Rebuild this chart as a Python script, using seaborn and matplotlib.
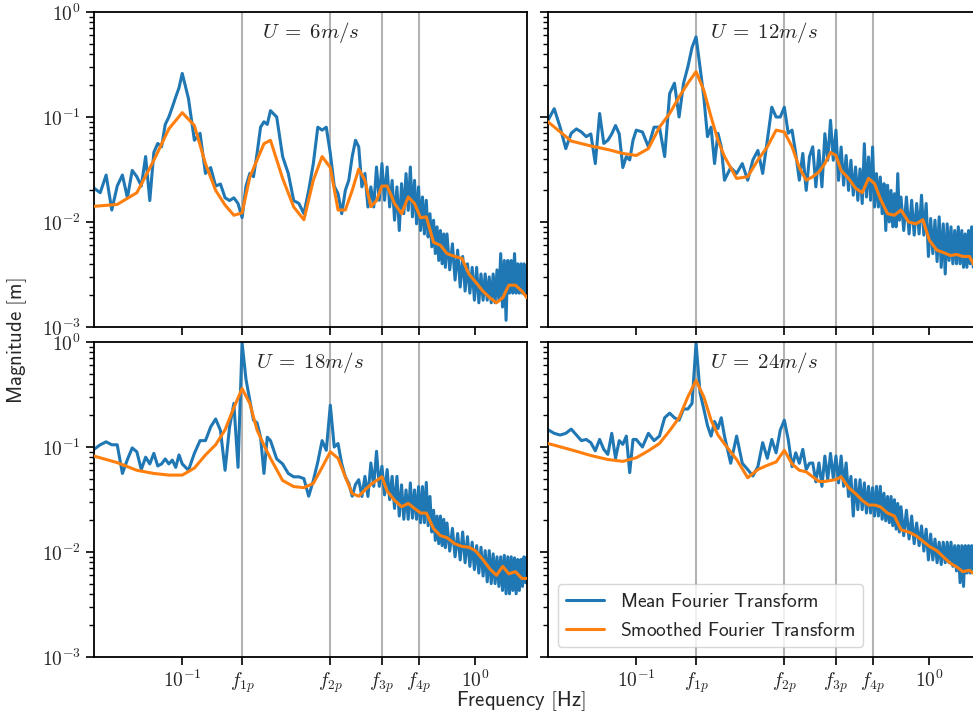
import matplotlib
matplotlib.use("Agg")
import matplotlib.pyplot as plt
import matplotlib.ticker as mticker
import seaborn as sns

# ---------------- data ----------------
freq_mean = [0.0500, 0.0525, 0.0550, 0.0575, 0.0600, 0.0625, 0.0650, 0.0675, 0.0700, 0.0725,
             0.0750, 0.0775, 0.0800, 0.0825, 0.0850, 0.0875, 0.0900, 0.0925, 0.0950, 0.0975,
             0.100, 0.105, 0.110, 0.115, 0.120, 0.125, 0.130, 0.135, 0.140, 0.145,
             0.150, 0.155, 0.160, 0.165, 0.170, 0.175, 0.180, 0.185, 0.190, 0.195,
             0.20, 0.21, 0.22, 0.23, 0.24, 0.25, 0.26, 0.27, 0.28, 0.29,
             0.30, 0.31, 0.32, 0.33, 0.34, 0.35, 0.36, 0.37, 0.38, 0.39,
             0.40, 0.41, 0.42, 0.43, 0.44, 0.45, 0.46, 0.47, 0.48, 0.49,
             0.50, 0.51, 0.52, 0.53, 0.54, 0.55, 0.56, 0.57, 0.58, 0.59,
             0.60, 0.61, 0.62, 0.63, 0.64, 0.65, 0.66, 0.67, 0.68, 0.69,
             0.70, 0.71, 0.72, 0.73, 0.74, 0.75, 0.76, 0.77, 0.78, 0.79,
             0.8000, 0.8175, 0.8350, 0.8525, 0.8700, 0.8875, 0.9050, 0.9225, 0.9400, 0.9575,
             0.9750, 0.9925, 1.0100, 1.0275, 1.0450, 1.0625, 1.0800, 1.0975, 1.1150, 1.1325,
             1.1500, 1.1675, 1.1850, 1.2025, 1.2200, 1.2375, 1.2550, 1.2725, 1.2900, 1.3075,
             1.3250, 1.3425, 1.3600, 1.3775, 1.3950, 1.4125, 1.4300, 1.4475, 1.4650, 1.4825, 1.5000]

mean_6 = [0.021, 0.019, 0.028, 0.013, 0.022, 0.028, 0.017, 0.031, 0.027, 0.022,
          0.042, 0.016, 0.046, 0.056, 0.052, 0.085, 0.10, 0.124, 0.155, 0.19,
          0.26, 0.15, 0.06, 0.07, 0.029, 0.033, 0.022, 0.023, 0.017, 0.016,
          0.017, 0.015, 0.011, 0.022, 0.029, 0.027, 0.045, 0.08, 0.09, 0.085,
          0.115, 0.10, 0.042, 0.029, 0.016, 0.015, 0.012, 0.02, 0.036, 0.08,
          0.075, 0.08, 0.045, 0.022, 0.0186, 0.012, 0.02, 0.025, 0.042, 0.06,
          0.052, 0.0216, 0.029, 0.0139, 0.0216, 0.0139, 0.0334, 0.0161, 0.036, 0.0161,
          0.0334, 0.0139, 0.0249, 0.0104, 0.0216, 0.0083, 0.0232, 0.012, 0.0289, 0.0129,
          0.0334, 0.0112, 0.0249, 0.0096, 0.0216, 0.0083, 0.0173, 0.0077, 0.0161, 0.0072,
          0.012, 0.0058, 0.0104, 0.005, 0.009, 0.0043, 0.0083, 0.004, 0.0077, 0.0037,
          0.0077, 0.0035, 0.0062, 0.0028, 0.0054, 0.0024, 0.0047, 0.0022, 0.004, 0.0021,
          0.0037, 0.0018, 0.0037, 0.0017, 0.0032, 0.0018, 0.0032, 0.0018, 0.003, 0.0017,
          0.0032, 0.0017, 0.0035, 0.0018, 0.005, 0.00155, 0.0043, 0.00116, 0.0043, 0.0021,
          0.0043, 0.0021, 0.005, 0.0021, 0.004, 0.0021, 0.004, 0.0021, 0.004, 0.0021, 0.0035]

mean_12 = [0.093, 0.12, 0.08, 0.05, 0.07, 0.077, 0.072, 0.065, 0.069, 0.036,
           0.108, 0.056, 0.06, 0.069, 0.083, 0.069, 0.033, 0.042, 0.039, 0.06,
           0.075, 0.072, 0.052, 0.08, 0.08, 0.042, 0.167, 0.21, 0.10, 0.21,
           0.30, 0.46, 0.58, 0.30, 0.155, 0.065, 0.08, 0.036, 0.07, 0.052,
           0.025, 0.033, 0.029, 0.036, 0.025, 0.039, 0.048, 0.029, 0.06, 0.124,
           0.10, 0.10, 0.124, 0.07, 0.075, 0.045, 0.025, 0.045, 0.02, 0.042,
           0.052, 0.0216, 0.048, 0.0216, 0.0694, 0.0387, 0.093, 0.0387, 0.075, 0.0249,
           0.0518, 0.0224, 0.043, 0.020, 0.0387, 0.018, 0.0334, 0.0161, 0.032, 0.015,
           0.0557, 0.0173, 0.0416, 0.0161, 0.0518, 0.0139, 0.0289, 0.0139, 0.0268, 0.012,
           0.0232, 0.0083, 0.0224, 0.010, 0.020, 0.009, 0.0186, 0.009, 0.0289, 0.0104,
           0.0173, 0.0083, 0.0173, 0.0077, 0.0161, 0.0075, 0.015, 0.0077, 0.018, 0.0075,
           0.015, 0.0047, 0.0108, 0.005, 0.0104, 0.0042, 0.0112, 0.0037, 0.0096, 0.0032,
           0.0096, 0.0043, 0.009, 0.004, 0.0083, 0.004, 0.009, 0.004, 0.0083, 0.0037,
           0.0077, 0.0037, 0.0083, 0.004, 0.009, 0.0037, 0.0077, 0.0037, 0.0077, 0.0037, 0.0077]

mean_18 = [0.095, 0.105, 0.112, 0.105, 0.105, 0.056, 0.076, 0.098, 0.09, 0.061,
           0.08, 0.069, 0.087, 0.066, 0.069, 0.077, 0.069, 0.075, 0.064, 0.084,
           0.069, 0.06, 0.087, 0.115, 0.115, 0.155, 0.185, 0.144, 0.06, 0.155,
           0.26, 0.064, 0.98, 0.44, 0.28, 0.18, 0.17, 0.124, 0.056, 0.124,
           0.115, 0.077, 0.069, 0.056, 0.052, 0.052, 0.05, 0.034, 0.048, 0.072,
           0.115, 0.093, 0.25, 0.1, 0.108, 0.069, 0.052, 0.045, 0.034, 0.044,
           0.0488, 0.0338, 0.0525, 0.0338, 0.0705, 0.0422, 0.091, 0.0422, 0.0655, 0.035,
           0.061, 0.0315, 0.0525, 0.026, 0.0525, 0.022, 0.0436, 0.0205, 0.039, 0.0205,
           0.0455, 0.021, 0.039, 0.0205, 0.042, 0.019, 0.042, 0.019, 0.046, 0.0178,
           0.0338, 0.0155, 0.025, 0.0129, 0.022, 0.012, 0.022, 0.0115, 0.0205, 0.011,
           0.0189, 0.0102, 0.0168, 0.009, 0.015, 0.0084, 0.0155, 0.0079, 0.014, 0.0073,
           0.0124, 0.0068, 0.0115, 0.0063, 0.0111, 0.0059, 0.0103, 0.0052, 0.0103, 0.005,
           0.0096, 0.005, 0.009, 0.0047, 0.009, 0.0043, 0.0093, 0.004, 0.009, 0.004,
           0.009, 0.0043, 0.0088, 0.004, 0.0085, 0.0043, 0.0085, 0.0047, 0.009, 0.0051, 0.009]

mean_24 = [0.146, 0.135, 0.13, 0.135, 0.148, 0.13, 0.115, 0.118, 0.11, 0.092,
           0.118, 0.095, 0.085, 0.135, 0.078, 0.115, 0.106, 0.127, 0.057, 0.118,
           0.118, 0.1, 0.135, 0.115, 0.127, 0.19, 0.21, 0.19, 0.18, 0.23,
           0.23, 0.26, 0.98, 0.33, 0.23, 0.16, 0.127, 0.175, 0.15, 0.19,
           0.127, 0.07, 0.127, 0.07, 0.061, 0.053, 0.065, 0.11, 0.078, 0.118,
           0.088, 0.145, 0.18, 0.118, 0.065, 0.088, 0.07, 0.095, 0.061, 0.07,
           0.0705, 0.0466, 0.0705, 0.0422, 0.082, 0.0488, 0.087, 0.0505, 0.082, 0.0455,
           0.082, 0.0422, 0.0705, 0.0338, 0.0525, 0.022, 0.0488, 0.0253, 0.0488, 0.0253,
           0.0455, 0.0235, 0.0422, 0.0235, 0.041, 0.022, 0.0422, 0.022, 0.0422, 0.0205,
           0.0363, 0.0198, 0.0338, 0.019, 0.0338, 0.0178, 0.0315, 0.0165, 0.029, 0.0155,
           0.027, 0.0143, 0.025, 0.0133, 0.022, 0.012, 0.0189, 0.0115, 0.0177, 0.0102,
           0.0165, 0.0084, 0.0148, 0.0084, 0.0133, 0.0079, 0.0124, 0.0076, 0.0124, 0.0079,
           0.0124, 0.0079, 0.0124, 0.0073, 0.0115, 0.0066, 0.0115, 0.0051, 0.0115, 0.0047,
           0.0115, 0.0063, 0.0115, 0.0063, 0.0115, 0.0068, 0.0124, 0.0068, 0.0115, 0.0068, 0.0115]

freq_smooth = [0.05, 0.06, 0.07, 0.08, 0.09, 0.10, 0.11, 0.12, 0.13, 0.14, 0.15, 0.16, 0.17, 0.18, 0.19, 0.20,
               0.22, 0.24, 0.26, 0.28, 0.30, 0.32, 0.34, 0.36, 0.38, 0.40, 0.42, 0.44, 0.46, 0.48, 0.50,
               0.53, 0.56, 0.59, 0.62, 0.65, 0.68, 0.72, 0.76, 0.80, 0.85, 0.90, 0.95, 1.00,
               1.06, 1.12, 1.18, 1.24, 1.30, 1.37, 1.44, 1.50]

smooth_6 = [0.0141, 0.0147, 0.019, 0.0387, 0.077, 0.11, 0.083, 0.036, 0.02, 0.0145, 0.0116, 0.0122, 0.0268, 0.039, 0.0557, 0.06,
            0.026, 0.0139, 0.0105, 0.025, 0.042, 0.033, 0.013, 0.013, 0.02, 0.032, 0.025, 0.014, 0.016, 0.022, 0.022,
            0.015, 0.012, 0.0173, 0.015, 0.011, 0.0112, 0.0064, 0.006, 0.005, 0.0047, 0.0045, 0.0032, 0.0027,
            0.0022, 0.0019, 0.0017, 0.0019, 0.0025, 0.0025, 0.0022, 0.0019]

smooth_12 = [0.090, 0.059, 0.053, 0.049, 0.045, 0.043, 0.05, 0.08, 0.108, 0.155, 0.21, 0.27, 0.18, 0.1, 0.06, 0.042,
             0.026, 0.027, 0.039, 0.052, 0.075, 0.072, 0.052, 0.033, 0.025, 0.027, 0.03, 0.036, 0.046, 0.043, 0.031,
             0.026, 0.021, 0.019, 0.026, 0.0232, 0.0167, 0.012, 0.0116, 0.013, 0.01, 0.0096, 0.0105, 0.0067,
             0.0054, 0.0051, 0.0048, 0.0049, 0.0047, 0.0047, 0.0036, 0.0035]

smooth_18 = [0.082, 0.071, 0.06, 0.056, 0.054, 0.054, 0.063, 0.084, 0.105, 0.146, 0.237, 0.36, 0.26, 0.145, 0.104, 0.078,
             0.048, 0.042, 0.041, 0.045, 0.064, 0.09, 0.078, 0.052, 0.036, 0.034, 0.039, 0.044, 0.048, 0.052, 0.038,
             0.031, 0.027, 0.029, 0.026, 0.0235, 0.0235, 0.0167, 0.0143, 0.0137, 0.012, 0.0113, 0.0111, 0.0103,
             0.0085, 0.0069, 0.006, 0.0073, 0.0062, 0.0065, 0.0056, 0.0056]

smooth_24 = [0.108, 0.094, 0.083, 0.076, 0.073, 0.079, 0.092, 0.108, 0.143, 0.19, 0.30, 0.43, 0.3, 0.18, 0.13, 0.107,
             0.076, 0.051, 0.061, 0.067, 0.072, 0.093, 0.069, 0.06, 0.058, 0.052, 0.047, 0.047, 0.048, 0.049, 0.052,
             0.041, 0.036, 0.031, 0.028, 0.028, 0.027, 0.0235, 0.022, 0.0163, 0.0155, 0.0143, 0.0127, 0.0113,
             0.0103, 0.0089, 0.0078, 0.0072, 0.0065, 0.0067, 0.006, 0.0056]

panel_titles = [r'$U\;=\;6m/s$', r'$U\;=\;12m/s$', r'$U\;=\;18m/s$', r'$U\;=\;24m/s$']
harmonic_freqs = [0.16, 0.32, 0.48, 0.64]
xtick_values = [0.1, 0.16, 0.32, 0.48, 0.64, 1.0]
xtick_labels = [r'$10^{-1}$', r'$f_{1p}$', r'$f_{2p}$', r'$f_{3p}$', r'$f_{4p}$', r'$10^{0}$']
ytick_values = [1e-3, 1e-2, 1e-1, 1e0]
ytick_labels = [r'$10^{-3}$', r'$10^{-2}$', r'$10^{-1}$', r'$10^{0}$']

# ---------------- style ----------------
sns.set_theme(style="ticks")
plt.rcParams["font.family"] = ["DejaVu Sans"]
plt.rcParams["mathtext.fontset"] = "cm"
plt.rcParams["axes.linewidth"] = 1.3
plt.rcParams["axes.edgecolor"] = "black"

BLUE = "#1f77b4"
ORANGE = "#ff7f0e"

fig, axes = plt.subplots(2, 2, sharex=True, sharey=True, figsize=(9.73, 7.13), dpi=100)
W, H = 973.0, 713.0
boxes = [(94, 12), (548, 12), (94, 342), (548, 342)]
aw, ah = 433.0, 315.0

mean_sets = [mean_6, mean_12, mean_18, mean_24]
smooth_sets = [smooth_6, smooth_12, smooth_18, smooth_24]

for i, ax in enumerate(axes.flat):
    x0, y0 = boxes[i]
    ax.set_position([x0 / W, 1 - (y0 + ah) / H, aw / W, ah / H])
    for fv in harmonic_freqs:
        ax.axvline(fv, color="#b3b3b3", lw=1.5, zorder=0)
    sns.lineplot(x=freq_mean, y=mean_sets[i], ax=ax, color=BLUE, lw=2.2,
                 label=r'$\mathsf{Mean\ Fourier\ Transform}$', legend=False, zorder=2)
    sns.lineplot(x=freq_smooth, y=smooth_sets[i], ax=ax, color=ORANGE, lw=2.2,
                 label=r'$\mathsf{Smoothed\ Fourier\ Transform}$', legend=False, zorder=3)
    ax.set_xscale("log")
    ax.set_yscale("log")
    ax.set_xlim(0.05, 1.5)
    ax.set_ylim(1e-3, 1.0)
    ax.text(0.5, 0.935, panel_titles[i], transform=ax.transAxes, ha="center", va="center",
            fontsize=15)
    ax.set_xlabel("")
    ax.set_ylabel("")
    for sp in ax.spines.values():
        sp.set_visible(True)
        sp.set_linewidth(1.3)
        sp.set_color("black")

ax0 = axes[0, 0]
ax0.xaxis.set_major_locator(mticker.FixedLocator(xtick_values))
ax0.xaxis.set_minor_locator(mticker.NullLocator())
ax0.yaxis.set_major_locator(mticker.FixedLocator(ytick_values))
ax0.yaxis.set_minor_locator(mticker.LogLocator(base=10, subs=[2, 3, 4, 5, 6, 7, 8, 9], numticks=20))

for ax in axes.flat:
    ax.tick_params(which="major", length=6, width=1.2, labelsize=14, direction="out",
                   color="black", bottom=True, left=True)
    ax.tick_params(which="minor", length=3.5, width=1.0, direction="out", color="black",
                   left=True)

for ax in axes[1, :]:
    ax.set_xticks(xtick_values)
    ax.set_xticklabels(xtick_labels)
    ax.xaxis.set_minor_locator(mticker.NullLocator())
for ax in axes[:, 0]:
    ax.set_yticks(ytick_values)
    ax.set_yticklabels(ytick_labels)
for ax in axes[0, :]:
    ax.tick_params(labelbottom=False)
for ax in axes[:, 1]:
    ax.tick_params(labelleft=False)

leg_ax = axes[1, 1]
handles, labels = leg_ax.get_legend_handles_labels()
leg_ax.legend(handles, labels, loc="lower left", fontsize=14, frameon=True,
              fancybox=True, framealpha=0.8, edgecolor="#cccccc", borderaxespad=0.5,
              handlelength=2.0)

fig.text(0.535, 0.016, r'$\mathsf{Frequency\ [Hz]}$', ha="center", va="center", fontsize=15)
fig.text(0.0175, 0.522, r'$\mathsf{Magnitude\ [m]}$', ha="center", va="center",
         rotation=90, fontsize=15)

fig.savefig("out.png", dpi=100)
